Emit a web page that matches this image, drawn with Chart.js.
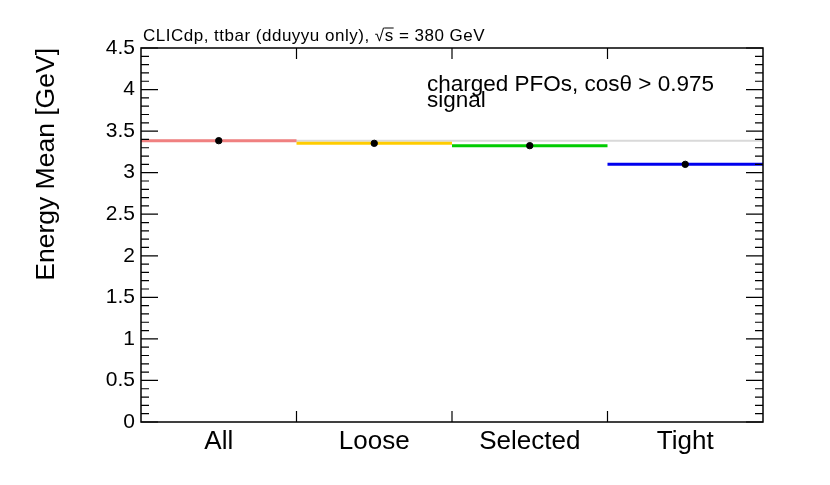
<!DOCTYPE html>
<html><head><meta charset="utf-8">
<script src="https://cdn.jsdelivr.net/npm/chart.js@4.4.0/dist/chart.umd.min.js"></script>
<style>html,body{margin:0;padding:0;background:#fff;}#wrap{width:830px;height:485px;}</style>
</head><body><div id="wrap"><canvas id="c" width="830" height="485"></canvas></div>
<script>
const categories = ['All', 'Loose', 'Selected', 'Tight'];
const energyMean = [3.385, 3.353, 3.325, 3.100];
const referenceValue = 3.383;
const seriesColors = ['#f08080', '#ffcc00', '#00cc00', '#0000ee'];
const yMin = 0, yMax = 4.5, yMajorStep = 0.5, yMinorStep = 0.1;
const headerPrefix = 'CLICdp, ttbar (dduyyu only), \u221A';
const headerS = 's';
const headerSuffix = ' = 380 GeV';
const annotationLines = ['charged PFOs, cos\u03B8 > 0.975', 'signal'];
const yTitle = 'Energy Mean [GeV]';

const FONT = "'Liberation Sans', Arial, Helvetica, sans-serif";

const datasets = [];
datasets.push({
  type: 'line', label: 'reference',
  data: [{x: 0, y: referenceValue}, {x: categories.length, y: referenceValue}],
  borderColor: '#d9d9d9', borderWidth: 2, pointRadius: 0, order: 3
});
categories.forEach((c, i) => {
  datasets.push({
    type: 'line', label: c,
    data: [{x: i, y: energyMean[i]}, {x: i + 1, y: energyMean[i]}],
    borderColor: seriesColors[i], borderWidth: 3, pointRadius: 0, order: 2
  });
});
datasets.push({
  type: 'scatter', label: 'mean',
  data: energyMean.map((v, i) => ({x: i + 0.5, y: v})),
  backgroundColor: '#000', borderColor: '#000', pointRadius: 3.2, order: 1
});

const framePlugin = {
  id: 'frame',
  afterDraw(chart) {
    const {ctx, chartArea: {left, right, top, bottom}, scales: {x, y}} = chart;
    ctx.save();
    ctx.strokeStyle = '#000';
    ctx.lineWidth = 1.5;
    ctx.strokeRect(left, top, right - left, bottom - top);
    ctx.lineWidth = 1.2;
    const nMinor = Math.round((yMax - yMin) / yMinorStep);
    const perMajor = Math.round(yMajorStep / yMinorStep);
    ctx.beginPath();
    for (let k = 0; k <= nMinor; k++) {
      const v = yMin + k * yMinorStep;
      const py = y.getPixelForValue(v);
      const len = (k % perMajor === 0) ? 17 : 8;
      ctx.moveTo(left, py); ctx.lineTo(left + len, py);
      ctx.moveTo(right, py); ctx.lineTo(right - len, py);
    }
    for (let i = 1; i < categories.length; i++) {
      const px = x.getPixelForValue(i);
      ctx.moveTo(px, bottom); ctx.lineTo(px, bottom - 11);
      ctx.moveTo(px, top); ctx.lineTo(px, top + 11);
    }
    ctx.stroke();

    // header
    ctx.fillStyle = '#000';
    ctx.font = '17px ' + FONT;
    ctx.letterSpacing = '0.5px';
    ctx.textBaseline = 'alphabetic';
    ctx.textAlign = 'left';
    const hx = left + 2, hy = top - 7;
    ctx.fillText(headerPrefix + headerS + headerSuffix, hx, hy);
    const wPre = ctx.measureText(headerPrefix).width;
    const wS = ctx.measureText(headerS).width;
    ctx.lineWidth = 1;
    ctx.beginPath();
    ctx.moveTo(hx + wPre - 0.5, hy - 13);
    ctx.lineTo(hx + wPre + wS, hy - 13);
    ctx.stroke();
    ctx.letterSpacing = '0px';

    // annotation
    ctx.font = '22.5px ' + FONT;
    ctx.fillText(annotationLines[0], 427, 91);
    ctx.fillText(annotationLines[1], 427, 107);
    ctx.restore();
  }
};

new Chart(document.getElementById('c'), {
  data: {datasets},
  options: {
    responsive: false, animation: false, devicePixelRatio: 1,
    layout: {padding: {top: 48, right: 67, left: 0, bottom: 0}},
    plugins: {legend: {display: false}, tooltip: {enabled: false}, title: {display: false}},
    scales: {
      x: {
        type: 'linear', min: 0, max: categories.length,
        grid: {display: false, drawTicks: false}, border: {display: false},
        afterBuildTicks: s => { s.ticks = categories.map((c, i) => ({value: i + 0.5})); },
        afterFit: s => { s.height = 63; },
        ticks: {
          callback: (v, i) => categories[i],
          font: {family: FONT, size: 26}, color: '#000', padding: 4, maxRotation: 0, autoSkip: false
        }
      },
      y: {
        type: 'linear', min: yMin, max: yMax,
        grid: {display: false, drawTicks: false}, border: {display: false},
        afterFit: s => { s.width = 141; },
        ticks: {stepSize: yMajorStep, callback: v => String(+(+v).toFixed(1)),
                font: {family: FONT, size: 21}, color: '#000', padding: 6},
        title: {display: true, text: yTitle, align: 'end', color: '#000',
                font: {family: FONT, size: 26.5, lineHeight: 1}, padding: {top: 33, bottom: 0}}
      }
    }
  },
  plugins: [framePlugin]
});
</script></body></html>
